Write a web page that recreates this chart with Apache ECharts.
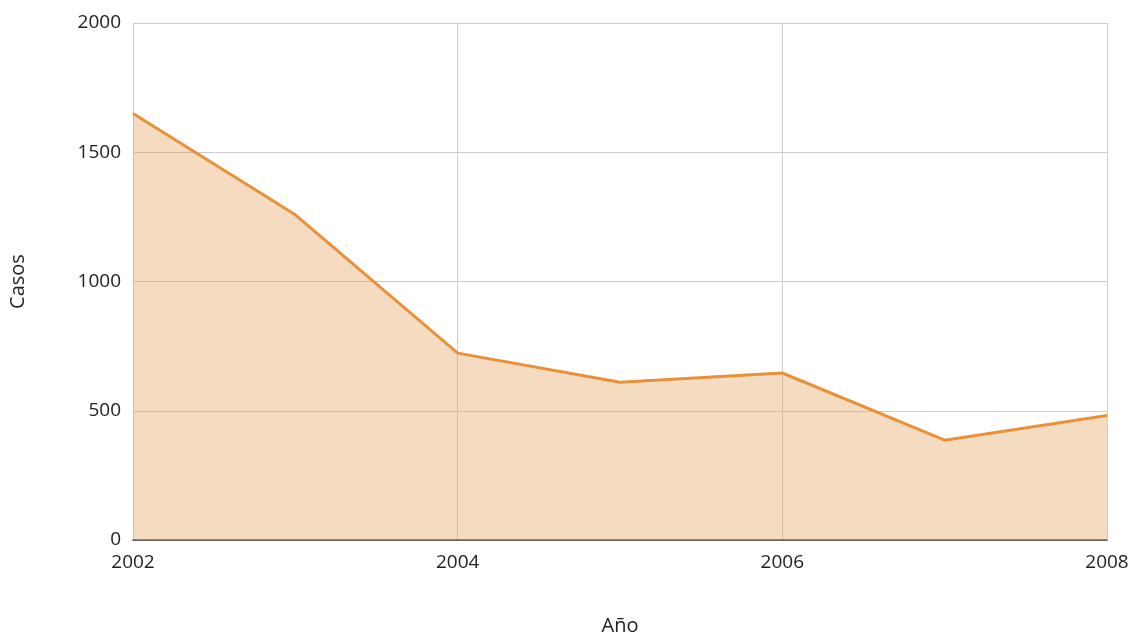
<!DOCTYPE html>
<html>
<head>
<meta charset="utf-8">
<script src="https://cdn.jsdelivr.net/npm/echarts@6/dist/echarts.min.js"></script>
<style>html,body{margin:0;padding:0;background:#fff}#c{width:1133px;height:641px}</style>
</head>
<body>
<div id="c"></div>
<script>
const years = [2002, 2003, 2004, 2005, 2006, 2007, 2008];
const casos = [1650, 1258, 723, 610, 646, 386, 482];
const xName = 'Año';
const yName = 'Casos';

const chart = echarts.init(document.getElementById('c'), null, {renderer: 'canvas'});
const font = '"Open Sans", "Noto Sans", sans-serif';
chart.setOption({
  animation: false,
  backgroundColor: '#fff',
  grid: {left: 132, right: 26, top: 23, bottom: 97, containLabel: false},
  xAxis: {
    type: 'value', min: 2002, max: 2008, interval: 2,
    name: xName, nameLocation: 'middle', nameGap: 76,
    nameTextStyle: {fontFamily: font, fontSize: 20, color: '#222'},
    axisLine: {show: true, lineStyle: {color: '#4a4440', width: 1.5}},
    axisTick: {show: false},
    axisLabel: {fontFamily: font, fontSize: 19, color: '#222', margin: 13, formatter: v => String(v)},
    splitLine: {show: true, lineStyle: {color: '#cccccc', width: 1}}
  },
  yAxis: {
    type: 'value', min: 0, max: 2000, interval: 500,
    name: yName, nameLocation: 'middle', nameGap: 105, nameRotate: 90,
    nameTextStyle: {fontFamily: font, fontSize: 20, color: '#222'},
    axisLine: {show: false},
    axisTick: {show: false},
    axisLabel: {fontFamily: font, fontSize: 19, color: '#222', margin: 12, formatter: v => String(v)},
    splitLine: {show: true, lineStyle: {color: '#cccccc', width: 1}}
  },
  series: [{
    type: 'line',
    data: years.map((y, i) => [y, casos[i]]),
    symbol: 'none',
    lineStyle: {color: '#E8913A', width: 3},
    areaStyle: {color: 'rgba(226,155,75,0.35)', opacity: 1},
    z: 1
  }]
});
</script>
</body>
</html>
